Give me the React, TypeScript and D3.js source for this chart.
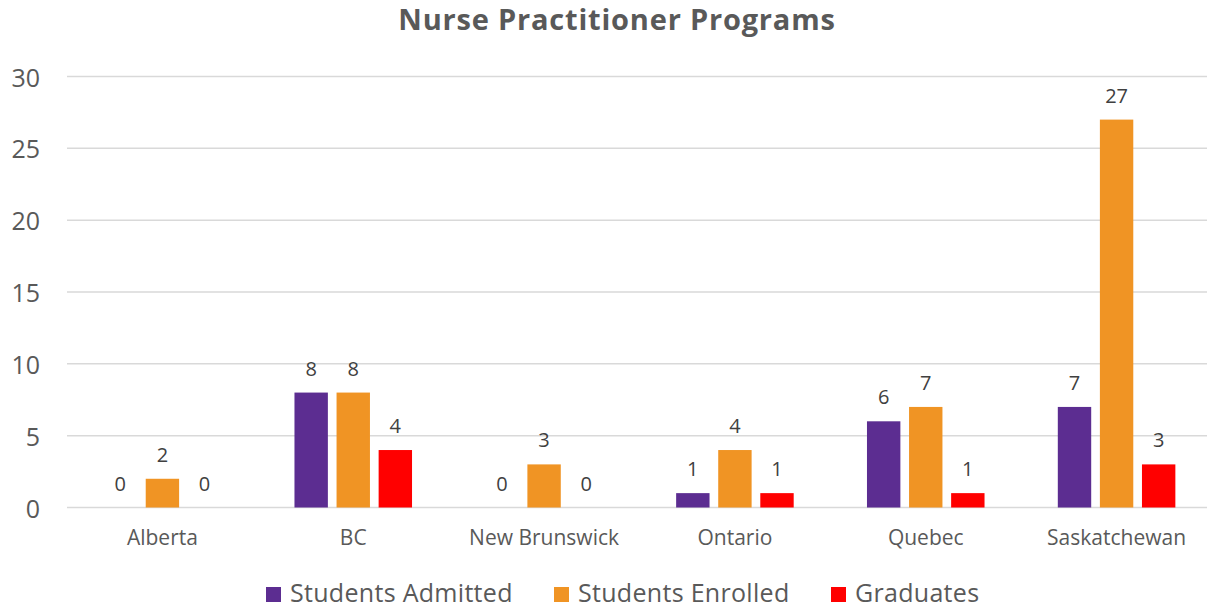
import React from "react";
import * as d3 from "d3";

const categories = ["Alberta", "BC", "New Brunswick", "Ontario", "Quebec", "Saskatchewan"];
const seriesNames = ["Students Admitted", "Students Enrolled", "Graduates"];
const admitted = [0, 8, 0, 1, 6, 7];
const enrolled = [2, 8, 3, 4, 7, 27];
const graduates = [0, 4, 0, 1, 1, 3];
const yTicks = [0, 5, 10, 15, 20, 25, 30];
const colors = ["#5C2D91", "#F09424", "#FF0000"];

const W = 1207;
const H = 608;
const FONT = "'Open Sans', sans-serif";
const TEXT = "#595959";

export default function App() {
  const series = [admitted, enrolled, graduates];
  const x = d3.scaleBand<string>().domain(categories).range([67, 1212]).padding(0);
  const y = d3.scaleLinear().domain([0, 30]).range([507.5, 76.5]);
  const band = x.bandwidth();
  const barW = band * 0.175;
  const gap = band * 0.0455;
  const groupW = barW * 3 + gap * 2;

  const legendX = [266, 554, 831];

  return (
    <svg width={W} height={H} style={{ position: "absolute", left: 0, top: 0, background: "#fff" }}>
      <text
        x={617}
        y={29.5}
        textAnchor="middle"
        fontFamily={FONT}
        fontWeight={700}
        fontSize={29}
        letterSpacing={0.8}
        fill={TEXT}
      >
        Nurse Practitioner Programs
      </text>
      {yTicks.map((t) => (
        <g key={t}>
          <line x1={67} x2={1212} y1={y(t)} y2={y(t)} stroke="#D9D9D9" strokeWidth={1.5} />
          <text x={40} y={y(t) + 10} textAnchor="end" fontFamily={FONT} fontSize={25} fill={TEXT}>
            {t}
          </text>
        </g>
      ))}
      {categories.map((c, i) => {
        const cx = (x(c) as number) + band / 2;
        const x0 = cx - groupW / 2;
        return (
          <g key={c}>
            {series.map((s, k) => {
              const bx = x0 + k * (barW + gap);
              const v = s[i];
              return (
                <g key={k}>
                  {v > 0 && (
                    <rect x={bx} y={y(v)} width={barW} height={y(0) - y(v)} fill={colors[k]} />
                  )}
                  <text
                    x={bx + barW / 2}
                    y={y(v) - 17}
                    textAnchor="middle"
                    fontFamily={FONT}
                    fontSize={20}
                    fill="#404040"
                  >
                    {v}
                  </text>
                </g>
              );
            })}
            <text x={cx} y={545} textAnchor="middle" fontFamily={FONT} fontSize={21} fill={TEXT}>
              {c}
            </text>
          </g>
        );
      })}
      {seriesNames.map((n, k) => (
        <g key={n}>
          <rect x={legendX[k]} y={587} width={15} height={15} fill={colors[k]} />
          <text
            x={legendX[k] + 24}
            y={602}
            fontFamily={FONT}
            fontSize={25}
            letterSpacing={0.3}
            fill={TEXT}
          >
            {n}
          </text>
        </g>
      ))}
    </svg>
  );
}
